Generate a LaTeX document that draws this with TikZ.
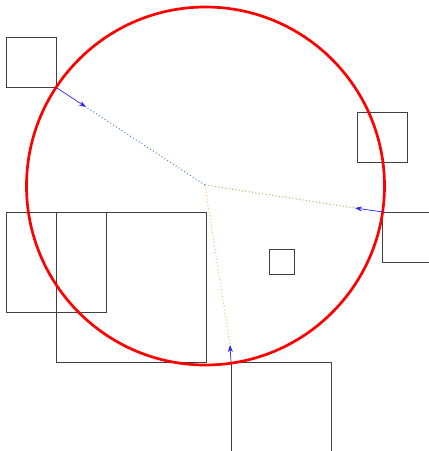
\documentclass[tikz,border=0pt]{standalone}
\usetikzlibrary{arrows.meta}
\definecolor{dotblue}{RGB}{70,130,205}
\definecolor{dotgreen}{RGB}{150,190,80}
\definecolor{dotorange}{RGB}{240,190,110}
\begin{document}
\begin{tikzpicture}[x=1pt,y=-1pt,
  box/.style={draw=black!75,line width=0.75pt},
  ring/.style={draw=red,line width=2.7pt},
  pointer/.style={draw=blue!85,line width=0.7pt,-{Stealth[length=7pt,width=5pt]}},
  ray/.style={line width=1pt,dash pattern=on 1pt off 2.4pt}]
\useasboundingbox (0,0) rectangle (429,451);
\clip (0,0) rectangle (429,451);
\fill[white] (0,0) rectangle (429,451);
% boxes
\draw[box] (6,37) rectangle (56,87);
\draw[box] (357,112) rectangle (407,162);
\draw[box] (269,249) rectangle (294,274);
\draw[box] (6,212) rectangle (106,312);
\draw[box] (56,212) rectangle (206,362);
\draw[box] (382,212) rectangle (432,262);
\draw[box] (231,362) rectangle (331,462);
% circle
\coordinate (ctr) at (205.5,186);
\draw[ring] (ctr) circle [radius=179pt];
% rays
\coordinate (c) at (205,185);
\coordinate (a1) at (57,88);
\coordinate (b1) at (86,107);
\coordinate (a2) at (383,212);
\coordinate (b2) at (355,208);
\coordinate (a3) at (231,362);
\coordinate (b3) at (230,345);
\draw[ray,dotblue] (c) -- (b1);
\draw[ray,dotgreen] (c) -- (b2);
\draw[ray,dotorange] (c) -- (b3);
\draw[pointer] (a1) -- (b1);
\draw[pointer] (a2) -- (b2);
\draw[pointer] (a3) -- (b3);
\end{tikzpicture}
\end{document}
